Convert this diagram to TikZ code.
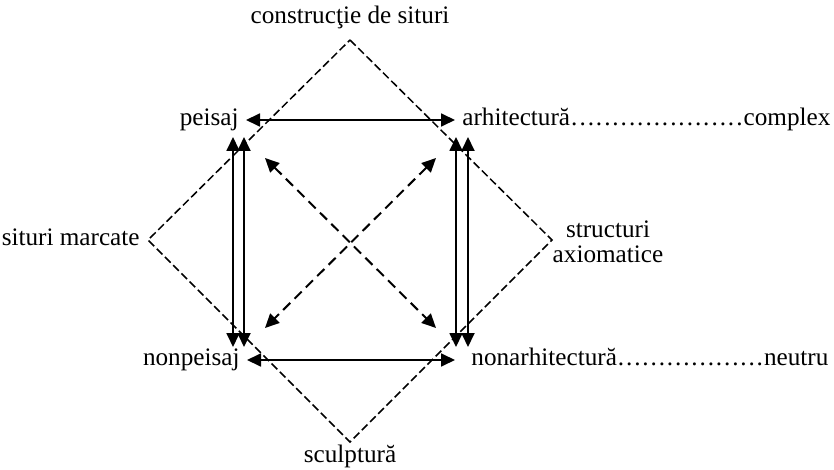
\documentclass[tikz,border=0pt]{standalone}
\usepackage{fontspec}
\setmainfont{Liberation Serif}
\usetikzlibrary{arrows.meta}

\tikzset{
  term/.style={font=\fontsize{12.6}{12.6}\selectfont, inner xsep=3.5pt, inner ysep=1pt,
    text height=1.6ex, text depth=0.45ex},
  rel/.style={line width=0.9pt, {Triangle[length=7pt,width=6.5pt]}-{Triangle[length=7pt,width=6.5pt]}},
  contra/.style={rel, line width=1pt, dash pattern=on 5pt off 3pt},
  frame/.style={line width=0.75pt, dash pattern=on 4pt off 1.8pt},
}
\newcommand{\leaderdots}{\xleaders\hbox to 4pt{\hss.\hss}\hfill}

\begin{document}
\begin{tikzpicture}[x=0.5pt,y=-0.5pt]
    \useasboundingbox (0,0) rectangle (834,470);

    % dashed diamond and its labels
    \coordinate (top) at (350,40);
    \coordinate (right) at (552,240);
    \coordinate (bottom) at (350,442);
    \coordinate (left) at (148,240);
    \draw[frame] (top) -- (right) -- (bottom) -- (left) -- cycle;
    \node[term] (constructie) at (350,18) {construcţie de situri};
    \node[term, anchor=east] (marcate) at (147,240) {situri marcate};
    \node[term, align=center, text height=, text depth=] (axiomatice) at (608,242) {structuri\\axiomatice};
    \node[term] (sculptura) at (350,457) {sculptură};

    % square of terms
    \node[term, anchor=east] (peisaj) at (246,120) {peisaj};
    \node[term, anchor=west] (arhitectura) at (455,120)
        {\makebox[184pt][l]{arhitectură\leaderdots complex}};
    \node[term, anchor=east] (nonpeisaj) at (247,360) {nonpeisaj};
    \node[term, anchor=west, inner xsep=8pt] (nonarhitectura) at (455,360)
        {\makebox[178.5pt][l]{nonarhitectură\leaderdots neutru}};

    % contraries
    \draw[rel] (peisaj) -- (arhitectura);
    \draw[rel] (nonpeisaj) -- (nonarhitectura);

    % implications
    \coordinate (pa) at (233,137);
    \coordinate (pb) at (244,137);
    \coordinate (npa) at (233,347);
    \coordinate (npb) at (244,347);
    \coordinate (aa) at (456,137);
    \coordinate (ab) at (468,137);
    \coordinate (naa) at (456,347);
    \coordinate (nab) at (468,347);
    \draw[rel] (pa) -- (npa);
    \draw[rel] (pb) -- (npb);
    \draw[rel] (aa) -- (naa);
    \draw[rel] (ab) -- (nab);

    % contradictories
    \coordinate (pc) at (265,158);
    \coordinate (ac) at (436,158);
    \coordinate (npc) at (265,328);
    \coordinate (nac) at (436,328);
    \draw[contra] (pc) -- (nac);
    \draw[contra] (ac) -- (npc);
\end{tikzpicture}
\end{document}
